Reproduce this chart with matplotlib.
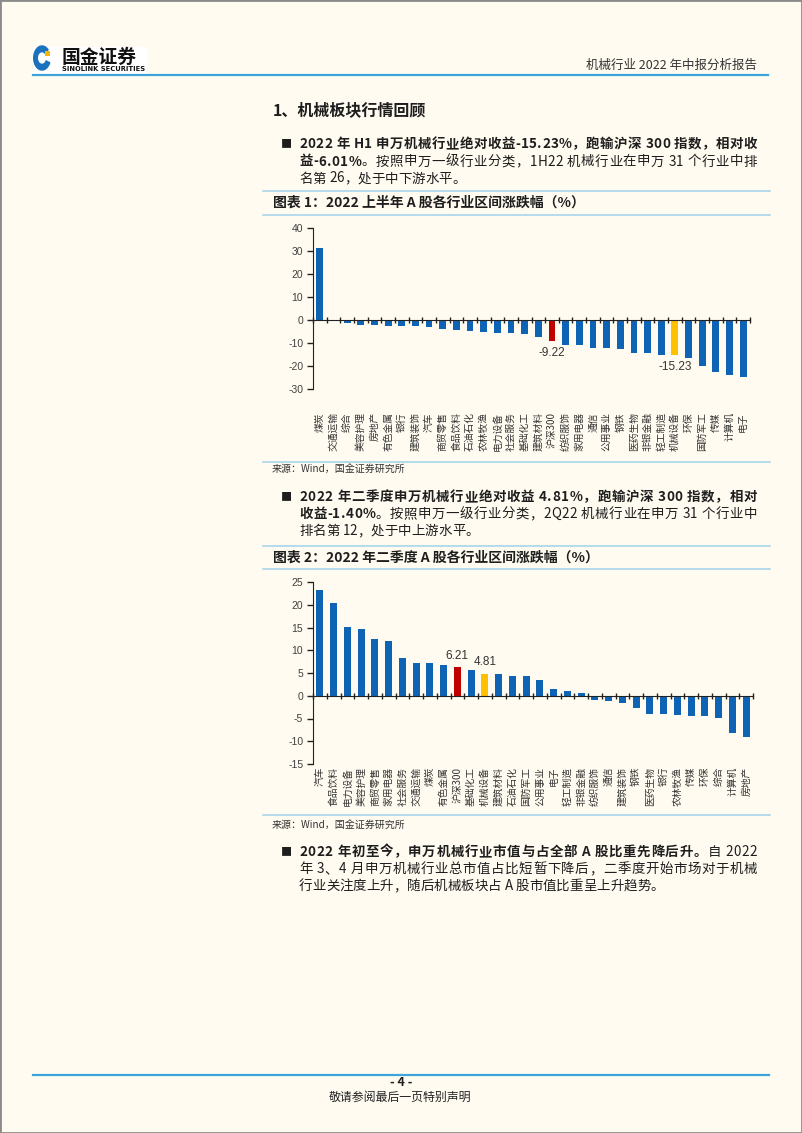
import numpy as np
import matplotlib
matplotlib.use('Agg')
import matplotlib.pyplot as plt
from matplotlib.patches import Rectangle, Wedge
from matplotlib.transforms import blended_transform_factory

plt.rcParams['font.family'] = ['Noto Sans CJK SC', 'DejaVu Sans']

# --------------------------
# Data
# --------------------------
h1_names = ['煤炭', '交通运输', '综合', '美容护理', '房地产', '有色金属', '银行', '建筑装饰',
            '汽车', '商贸零售', '食品饮料', '石油石化', '农林牧渔', '电力设备', '社会服务',
            '基础化工', '建筑材料', '沪深300', '纺织服饰', '家用电器', '通信', '公用事业',
            '钢铁', '医药生物', '非银金融', '轻工制造', '机械设备', '环保', '国防军工',
            '传媒', '计算机', '电子']
h1_vals = [31.4, -0.5, -1.5, -2.0, -2.3, -2.4, -2.5, -2.7, -3.2, -3.7, -4.5, -4.8, -5.4,
           -5.5, -5.6, -6.2, -7.6, -9.22, -10.9, -10.8, -12.1, -12.1, -12.5, -14.2, -14.5,
           -15.0, -15.23, -16.7, -20.1, -22.4, -23.7, -24.6]

q2_names = ['汽车', '食品饮料', '电力设备', '美容护理', '商贸零售', '家用电器', '社会服务',
            '交通运输', '煤炭', '有色金属', '沪深300', '基础化工', '机械设备', '建筑材料',
            '石油石化', '国防军工', '公用事业', '电子', '轻工制造', '非银金融', '纺织服饰',
            '通信', '建筑装饰', '钢铁', '医药生物', '银行', '农林牧渔', '传媒', '环保',
            '综合', '计算机', '房地产']
q2_vals = [23.2, 20.4, 15.2, 14.6, 12.5, 12.1, 8.4, 7.3, 7.1, 6.8, 6.21, 5.7, 4.81, 4.7,
           4.4, 4.3, 3.5, 1.5, 1.1, 0.5, -0.9, -1.1, -1.6, -2.6, -4.0, -4.0, -4.3, -4.5,
           -4.5, -4.9, -8.1, -9.0]

h1_ticks = [40, 30, 20, 10, 0, -10, -20, -30]
q2_ticks = [25, 20, 15, 10, 5, 0, -5, -10, -15]

W, H = 802, 1133
BG = '#FFFBF0'
BLUE = '#0F63B5'
RED = '#C00000'
GOLD = '#FFC000'
LINE = '#3DA5DC'
LIGHT = '#A9D5EA'
TXT = '#1E1E1E'

fig = plt.figure(figsize=(W / 100, H / 100), dpi=100, facecolor=BG)
renderer = fig.canvas.get_renderer()


def fx(px):
    return px / W


def fy(py):
    return 1 - py / H


def put(x, y, s, size=9.7, bold=False, color=TXT, ha='left', **kw):
    return fig.text(fx(x), fy(y), s, fontsize=size, color=color, ha=ha, va='center',
                    fontweight='bold' if bold else 'normal', **kw)


def char_w(c, size, bold):
    if c == ' ':
        a = put(0, 0, 'a a', size, bold)
        b = put(0, 0, 'aa', size, bold)
        w = a.get_window_extent(renderer).width - b.get_window_extent(renderer).width
        a.remove()
        b.remove()
        return w
    t = put(0, 0, c, size, bold)
    w = t.get_window_extent(renderer).width
    t.remove()
    return w


def text_line(segs, x0, y, x1=None, size=9.7):
    # segs: list of (text, bold); justify to x1 when given
    chars = [(c, b) for s, b in segs for c in s]
    widths = [char_w(c, size, b) for c, b in chars]
    gap = 0.0
    if x1 is not None and len(chars) > 1:
        gap = (x1 - x0 - sum(widths)) / (len(chars) - 1)
    x = x0
    for (c, b), w in zip(chars, widths):
        if c != ' ':
            put(x, y, c, size, b)
        x += w + gap


def hline(y, x0, x1, color, lw=1.0):
    fig.add_artist(plt.Line2D([fx(x0), fx(x1)], [fy(y), fy(y)], color=color, lw=lw))


# page border
fig.add_artist(Rectangle((0, 0), 1, 1, transform=fig.transFigure, fill=False,
                         ec='#8A8A8A', lw=2))

# header
fig.add_artist(Rectangle((fx(33), fy(74)), fx(114), 27 / H, transform=fig.transFigure,
                         fc='white', ec='none'))
fig.add_artist(Wedge((fx(42), fy(58)), 9 / W, 40, 340, width=5 / W,
                     transform=fig.transFigure, fc='#1A72BE', ec='none'))
fig.add_artist(Rectangle((fx(45), fy(56)), 5 / W, 5 / H, transform=fig.transFigure,
                         fc='#F2B705', ec='none'))
put(62, 57, '国金证券', size=13.5, bold=True, color='#111111')
put(62, 69, 'SINOLINK SECURITIES', size=4.9, bold=True, color='#111111',
    family=['DejaVu Sans'])
put(757, 65, '机械行业 2022 年中报分析报告', size=9, color='#333333', ha='right')
hline(75, 33, 768, LINE, 1.6)

# section title and bullets
put(273, 110, '1、机械板块行情回顾', size=11.5, bold=True)

put(281, 144, '■', size=8)
text_line([('2022 年 H1 申万机械行业绝对收益-15.23%，跑输沪深 300 指数，相对收', True)],
          299, 144, 757)
text_line([('益-6.01%', True), ('。按照申万一级行业分类，1H22 机械行业在申万 31 个行业中排', False)],
          299, 161.5, 757)
text_line([('名第 26，处于中下游水平。', False)], 299, 178.5)

hline(191, 263, 770, LIGHT, 1.2)
put(273, 203, '图表 1：2022 上半年 A 股各行业区间涨跌幅（%）', size=10, bold=True)
hline(215, 263, 770, LIGHT, 1.2)


def bar_chart(rect, names, vals, ticks, hl, lab_top, ylim):
    ax = fig.add_axes(rect)
    ax.set_facecolor('none')
    x = np.arange(len(names))
    cols = [BLUE] * len(names)
    cols[names.index('沪深300')] = RED
    cols[names.index('机械设备')] = GOLD
    ax.bar(x, vals, width=0.5, color=cols, zorder=2)
    ax.set_xlim(-0.5, len(names) - 0.5)
    ax.set_ylim(*ylim)
    ax.set_yticks(ticks)
    ax.set_yticklabels([str(t) for t in ticks], fontsize=7.5, color='#404040',
                       family=['Liberation Sans', 'DejaVu Sans'])
    ax.tick_params(axis='y', length=4, width=1, color='#222222', pad=3)
    for s in ['top', 'right']:
        ax.spines[s].set_visible(False)
    ax.spines['left'].set_color('#222222')
    ax.spines['bottom'].set_position(('data', 0))
    ax.spines['bottom'].set_color('#222222')
    ax.set_xticks([])
    ax.set_xticks(np.arange(len(names) + 1) - 0.5, minor=True)
    ax.tick_params(axis='x', which='minor', direction='inout', length=4, width=1,
                   color='#222222', labelbottom=False)
    tr = blended_transform_factory(ax.transData, fig.transFigure)
    for i, n in enumerate(names):
        ax.text(i, fy(lab_top), n, rotation=90, ha='center', va='top', fontsize=7,
                color='#333333', transform=tr)
    for n in hl:
        i = names.index(n)
        v = vals[i]
        ax.annotate(f'{v:.2f}', (i, v), xytext=(0, 4 if v > 0 else -4),
                    textcoords='offset points', ha='center',
                    va='bottom' if v > 0 else 'top', fontsize=8.5, color='#333333',
                    family=['Liberation Sans', 'DejaVu Sans'])
    return ax


bar_chart([fx(313), fy(389), 437 / W, 161 / H], h1_names, h1_vals, h1_ticks,
          ['沪深300', '机械设备'], 412, (-30, 40))

hline(462, 263, 770, LIGHT, 1.2)
put(272, 470, '来源：Wind，国金证券研究所', size=7.2, color='#333333')

put(281, 497, '■', size=8)
text_line([('2022 年二季度申万机械行业绝对收益 4.81%，跑输沪深 300 指数，相对', True)],
          299, 497, 757)
text_line([('收益-1.40%', True), ('。按照申万一级行业分类，2Q22 机械行业在申万 31 个行业中', False)],
          299, 514, 757)
text_line([('排名第 12，处于中上游水平。', False)], 299, 531)

hline(546, 263, 770, LIGHT, 1.2)
put(273, 558, '图表 2：2022 年二季度 A 股各行业区间涨跌幅（%）', size=10, bold=True)
hline(569, 263, 770, LIGHT, 1.2)

bar_chart([fx(313), fy(764), 440 / W, 182 / H], q2_names, q2_vals, q2_ticks,
          ['沪深300', '机械设备'], 767, (-15, 25))

hline(815, 263, 770, LIGHT, 1.2)
put(272, 826, '来源：Wind，国金证券研究所', size=7.2, color='#333333')

put(281, 852, '■', size=8)
text_line([('2022 年初至今，申万机械行业市值与占全部 A 股比重先降后升。', True),
           ('自 2022', False)], 299, 852, 757)
text_line([('年 3、4 月申万机械行业总市值占比短暂下降后，二季度开始市场对于机械', False)],
          299, 869, 757)
text_line([('行业关注度上升，随后机械板块占 A 股市值比重呈上升趋势。', False)], 299, 886)

# footer
hline(1075, 33, 769, LINE, 1.6)
put(401, 1083, '- 4 -', size=9, bold=True, ha='center')
put(400, 1097, '敬请参阅最后一页特别声明', size=8.6, ha='center', color='#222222')

fig.savefig('out.png', dpi=100, facecolor=BG)
